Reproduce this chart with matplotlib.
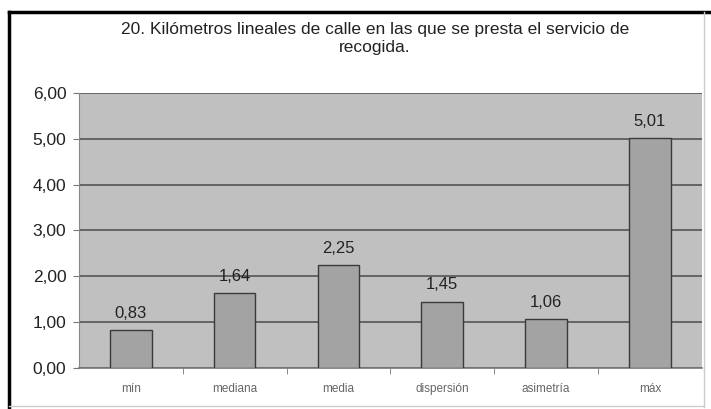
import matplotlib.pyplot as plt
import matplotlib.lines as mlines
from matplotlib.ticker import FuncFormatter

plt.rcParams["font.family"] = ["Liberation Sans", "DejaVu Sans"]

categories = ["mín", "mediana", "media", "dispersión", "asimetría", "máx"]
values = [0.83, 1.64, 2.25, 1.45, 1.06, 5.01]

fig = plt.figure(figsize=(7.11, 4.09), dpi=100)
ax = fig.add_axes([0.111, 0.100, 0.876, 0.673])

ax.set_facecolor("#c0c0c0")
x = range(len(categories))
ax.bar(x, values, width=0.4, color="#a3a3a3", edgecolor="#3a3a3a",
       linewidth=1.0, zorder=3)

for xi, v in zip(x, values):
    ax.text(xi, v + 0.2, f"{v:.2f}".replace(".", ","), ha="center", va="bottom",
            fontsize=12, color="#222222", zorder=4)

ax.set_xlim(-0.5, len(categories) - 0.5)
ax.set_ylim(0, 6)
ax.set_yticks([0, 1, 2, 3, 4, 5, 6])
ax.yaxis.set_major_formatter(FuncFormatter(lambda v, p: f"{v:.2f}".replace(".", ",")))
ax.grid(axis="y", color="#555555", linewidth=1.2, zorder=1)
ax.set_axisbelow(True)

ax.set_xticks(list(x))
ax.set_xticklabels(categories, fontsize=8.5, color="#666666")
ax.set_xticks([i + 0.5 for i in range(len(categories) - 1)], minor=True)
ax.tick_params(axis="x", which="major", length=0, pad=11)
ax.tick_params(axis="x", which="minor", length=4, color="#777777")
ax.tick_params(axis="y", length=4, color="#777777", labelsize=12.5, labelcolor="#222222", pad=5)

for side in ["top", "right"]:
    ax.spines[side].set_visible(False)
ax.spines["left"].set_color("#888888")
ax.spines["bottom"].set_color("#777777")
ax.spines["bottom"].set_linewidth(1.2)

fig.text(0.527, 0.906, "20. Kilómetros lineales de calle en las que se presta el servicio de\nrecogida.",
         ha="center", va="center", fontsize=12.5, color="#222222", linespacing=1.3)

# chart frame
fig.add_artist(mlines.Line2D([0.012, 0.012], [0.006, 0.97], color="black", linewidth=2.5))
fig.add_artist(mlines.Line2D([0.012, 0.998], [0.97, 0.97], color="black", linewidth=2.5))
fig.add_artist(mlines.Line2D([0.99, 0.99], [0.006, 0.97], color="#cccccc", linewidth=1))
fig.add_artist(mlines.Line2D([0.012, 0.99], [0.008, 0.008], color="#cccccc", linewidth=1))

fig.savefig("out.png", dpi=100)
